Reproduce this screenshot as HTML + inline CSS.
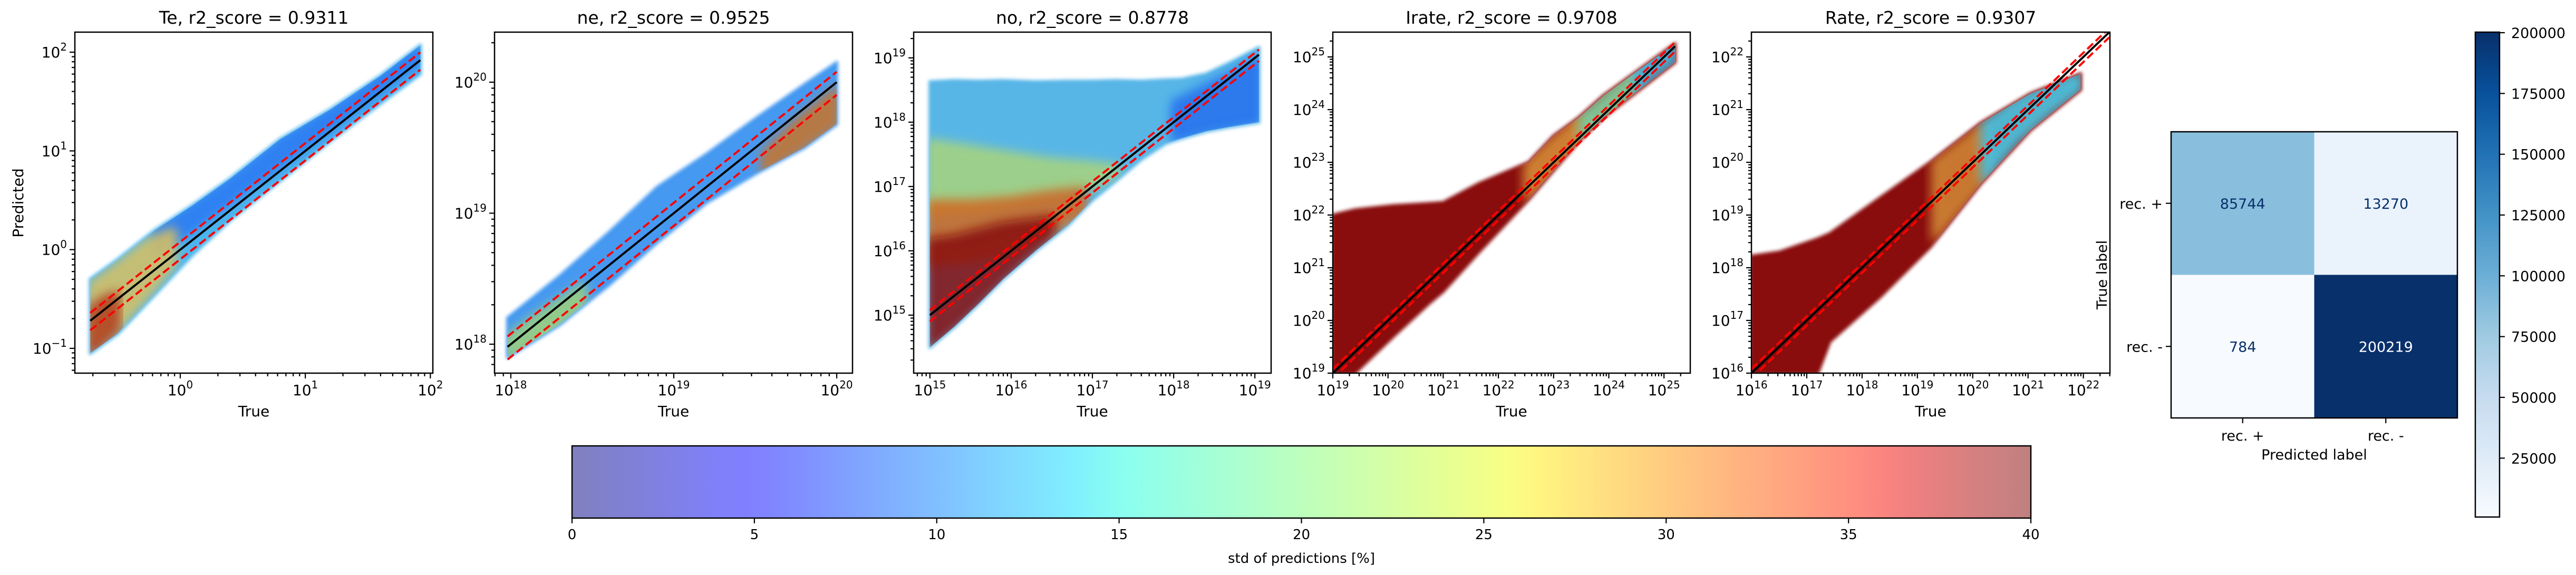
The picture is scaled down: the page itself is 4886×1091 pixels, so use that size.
<!DOCTYPE html>
<html><head><meta charset="utf-8"><title>Prediction scatter panels</title>
<style>
html,body{margin:0;padding:0;background:#fff;}
svg{display:block;font-family:"DejaVu Sans","Liberation Sans",sans-serif;}
</style></head>
<body>
<svg id="fig" width="4886" height="1091" viewBox="0 0 4886 1091" xmlns="http://www.w3.org/2000/svg">
<defs>
<linearGradient id="jetGrad" x1="0" y1="0" x2="1" y2="0"></linearGradient>
<linearGradient id="bluesGrad" x1="0" y1="1" x2="0" y2="0"></linearGradient>
<filter id="soft" x="-20%" y="-20%" width="140%" height="140%"><feGaussianBlur stdDeviation="10"/></filter>
<filter id="softEdge" x="-10%" y="-10%" width="120%" height="120%"><feGaussianBlur stdDeviation="3"/></filter>
</defs>
</svg>
<script>
// ---------- data (log10 values) ----------
const panelTitles = ["Te, r2_score = 0.9311","ne, r2_score = 0.9525","no, r2_score = 0.8778","Irate, r2_score = 0.9708","Rate, r2_score = 0.9307"];
// Te cloud envelope
const teEnvX  = [-0.72,-0.5,-0.2,0.1,0.4,0.8,1.2,1.6,1.92];
const teEnvLo = [-1.05,-0.85,-0.45,-0.05,0.3,0.7,1.1,1.48,1.78];
const teEnvHi = [-0.3,-0.1,0.2,0.45,0.72,1.12,1.42,1.76,2.07];
const teBlueX = [-0.2,0.1,0.4,0.8,1.2,1.6,1.92];
const teBlueLo = [-0.05,0.2,0.48,0.85,1.22,1.6,1.9];
const teBlueHi = [0.2,0.45,0.72,1.12,1.42,1.76,2.07];
const teWarmX = [-0.72,-0.5,-0.25,-0.05];
const teWarmLo = [-1.0,-0.8,-0.45,-0.15];
const teWarmHi = [-0.35,-0.15,0.1,0.2];
const teRedX = [-0.72,-0.62,-0.5];
const teRedLo = [-1.05,-0.95,-0.8];
const teRedHi = [-0.6,-0.5,-0.45];
// ne
const neEnvX  = [17.98,18.3,18.6,18.9,19.2,19.5,19.8,20.0];
const neEnvLo = [17.9,18.15,18.45,18.78,19.08,19.3,19.5,19.68];
const neEnvHi = [18.2,18.52,18.85,19.2,19.45,19.72,19.98,20.15];
const neWarmX = [19.55,19.75,20.0];
const neWarmLo = [19.32,19.47,19.68];
const neWarmHi = [19.45,19.7,19.95];
const neGreenX = [17.98,18.2,18.45];
const neGreenLo = [17.9,18.05,18.3];
const neGreenHi = [18.05,18.25,18.45];
// no
const noEnvX  = [15.0,15.3,15.6,15.9,16.3,16.7,17.0,17.3,17.6,17.9,18.1,18.4,18.7,19.05];
const noEnvLo = [14.5,14.82,15.18,15.56,16.0,16.4,16.79,17.1,17.42,17.67,17.75,17.86,17.93,18.0];
const noEnvHi = [18.63,18.65,18.64,18.65,18.63,18.64,18.64,18.65,18.64,18.66,18.67,18.75,18.93,19.16];
const noMixX  = [15.0,15.5,16.0,16.5,17.0,17.3];
const noMixLo = [16.6,16.65,16.75,16.85,17.0,17.2];
const noMixHi = [17.7,17.6,17.5,17.4,17.35,17.3];
const noOrangeX = [15.0,15.5,16.0,16.5,16.9];
const noOrangeLo = [15.8,15.85,16.0,16.3,16.6];
const noOrangeHi = [16.75,16.75,16.8,16.9,16.95];
const noRedX = [15.0,15.3,15.6,15.9,16.2,16.5];
const noRedLo = [14.5,14.82,15.18,15.56,15.9,16.25];
const noRedHi = [16.15,16.2,16.3,16.4,16.45,16.5];
const noBlueX = [18.0,18.4,18.8,19.05];
const noBlueLo = [17.72,17.86,17.95,18.0];
const noBlueHi = [18.3,18.55,18.8,19.0];
// Irate
const irEnvX  = [19.0,19.4,19.83,20.1,20.74,21.0,21.65,22.55,23.0,23.46,23.9,25.2];
const irEnvLo = [19.0,19.0,19.43,19.7,20.32,20.55,21.3,22.3,22.85,23.4,23.85,24.9];
const irEnvHi = [22.0,22.1,22.15,22.18,22.22,22.24,22.6,23.0,23.5,23.85,24.26,25.25];
const irOrangeX = [22.5,23.0,23.5];
const irOrangeLo = [22.3,22.85,23.4];
const irOrangeHi = [22.95,23.45,23.9];
const irGreenX = [23.5,24.0,24.5];
const irGreenLo = [23.4,23.88,24.35];
const irGreenHi = [23.9,24.35,24.8];
const irCyanX = [24.5,24.9,25.2];
const irCyanLo = [24.35,24.7,24.92];
const irCyanHi = [24.8,25.1,25.25];
// Rate
const rtEnvX  = [16.0,16.51,17.2,17.42,18.33,19.23,20.14,21.04,21.95];
const rtEnvLo = [16.0,16.0,16.0,16.6,17.45,18.39,19.59,20.61,21.38];
const rtEnvHi = [18.22,18.3,18.55,18.65,19.33,20.0,20.74,21.3,21.68];
const rtOrangeX = [19.3,19.8,20.2];
const rtOrangeLo = [18.55,19.15,19.65];
const rtOrangeHi = [20.0,20.4,20.75];
const rtCyanX = [20.2,20.8,21.4,21.95];
const rtCyanLo = [19.65,20.4,20.95,21.38];
const rtCyanHi = [20.75,21.2,21.5,21.68];
// identity line ranges (log10 True)
const lineStart = [-0.72,17.98,15.0,19.0,16.0];
const lineEnd = [1.92,20.0,19.05,25.2,22.47];
const bandFactorHi = 1.2, bandFactorLo = 0.8;
// confusion matrix
const cmLabels = ["rec. +","rec. -"];
const cmValues = [[85744,13270],[784,200219]];
const cmTicks = [25000,50000,75000,100000,125000,150000,175000,200000];
// std colorbar
const stdTicks = [0,5,10,15,20,25,30,35,40];

// ---------- layout (pixel geometry, not data) ----------
const panels = [
 {id:'te',L:142,R:821,T:61,B:708,x0:-0.843,x1:2.02,y0:-1.251,y1:2.203},
 {id:'ne',L:938,R:1617,T:61,B:708,x0:17.9,x1:20.097,y0:17.779,y1:20.382},
 {id:'no',L:1733,R:2411,T:61,B:708,x0:14.8,x1:19.2,y0:14.098,y1:19.40},
 {id:'irate',L:2528,R:3206,T:61,B:708,x0:19.0,x1:25.476,y0:19.0,y1:25.47},
 {id:'rate',L:3322,R:4002,T:61,B:708,x0:16.0,x1:22.48,y0:16.0,y1:22.47}
];
const panelBands = [
 [[teEnvX,teEnvLo,teEnvHi,'#45b3ee'],[teBlueX,teBlueLo,teBlueHi,'#2a78f2'],[teWarmX,teWarmLo,teWarmHi,'#d8c060'],[teRedX,teRedLo,teRedHi,'#b04020']],
 [[neEnvX,neEnvLo,neEnvHi,'#3b94f0'],[neWarmX,neWarmLo,neWarmHi,'#c8742a'],[neGreenX,neGreenLo,neGreenHi,'#9ed27a']],
 [[noEnvX,noEnvLo,noEnvHi,'#4fb2e6'],[noMixX,noMixLo,noMixHi,'#a8d47c'],[noOrangeX,noOrangeLo,noOrangeHi,'#d06a22'],[noRedX,noRedLo,noRedHi,'#880808'],[noBlueX,noBlueLo,noBlueHi,'#2470ef']],
 [[irEnvX,irEnvLo,irEnvHi,'#840404'],[irOrangeX,irOrangeLo,irOrangeHi,'#d89038'],[irGreenX,irGreenLo,irGreenHi,'#7fdca8'],[irCyanX,irCyanLo,irCyanHi,'#40c4f0']],
 [[rtEnvX,rtEnvLo,rtEnvHi,'#840404'],[rtOrangeX,rtOrangeLo,rtOrangeHi,'#d28a36'],[rtCyanX,rtCyanLo,rtCyanHi,'#46d0ee']]
];
const bandNames = [['te-cloud','te-blue-points','te-warm-points','te-red-points'],['ne-cloud','ne-warm-points','ne-green-points'],['no-cloud','no-mixed-points','no-orange-points','no-red-points','no-blue-points'],['irate-cloud','irate-orange-points','irate-green-points','irate-cyan-points'],['rate-cloud','rate-orange-points','rate-cyan-points']];

const NS='http://www.w3.org/2000/svg';
const svg=document.getElementById('fig');
function mk(tag,attrs,parent){const e=document.createElementNS(NS,tag);for(const k in attrs)e.setAttribute(k,attrs[k]);(parent||svg).appendChild(e);return e;}
function supText(parent,x,y,anchor,base,exp,size){
  const t=mk('text',{x:x,y:y,'text-anchor':anchor,'font-size':size,fill:'#000'},parent);
  t.appendChild(document.createTextNode(base));
  const s=mk('tspan',{dy:-13,'font-size':Math.round(size*0.7)},t);
  s.textContent=exp;
  return t;
}

function jet(t){
  let r,g,b;
  r=t<0.35?0:t<0.66?(t-0.35)/0.31:t<0.89?1:1-0.5*(t-0.89)/0.11;
  g=t<0.125?0:t<0.375?(t-0.125)/0.25:t<0.64?1:t<0.91?1-(t-0.64)/0.27:0;
  b=t<0.11?0.5+0.5*t/0.11:t<0.34?1:t<0.65?1-(t-0.34)/0.31:0;
  const f=c=>Math.round((c*0.5+0.5)*255);
  return 'rgb('+f(r)+','+f(g)+','+f(b)+')';
}
const jg=document.getElementById('jetGrad');
for(let i=0;i<=50;i++){const t=i/50;mk('stop',{offset:t,'stop-color':jet(t)},jg);}
const bluesStops=['#f7fbff','#deebf7','#c6dbef','#9ecae1','#6baed6','#4292c6','#2171b5','#08519c','#08306b'];
function hex(h){return [parseInt(h.substr(1,2),16),parseInt(h.substr(3,2),16),parseInt(h.substr(5,2),16)];}
function blues(t){t=Math.max(0,Math.min(1,t));const p=t*8,i=Math.min(7,Math.floor(p)),f=p-i;const a=hex(bluesStops[i]),b=hex(bluesStops[i+1]);return 'rgb('+a.map((v,k)=>Math.round(v+(b[k]-v)*f)).join(',')+')';}
const bg=document.getElementById('bluesGrad');
bluesStops.forEach((c,i)=>{mk('stop',{offset:i/8,'stop-color':c},bg);});

// ---------- scatter panels ----------
panels.forEach((P,pi)=>{
  const g=mk('g',{});
  
  
  const sx=v=>P.L+(v-P.x0)/(P.x1-P.x0)*(P.R-P.L);
  const sy=v=>P.B-(v-P.y0)/(P.y1-P.y0)*(P.B-P.T);
  const clip=mk('clipPath',{id:'clip'+pi},svg.querySelector('defs'));
  mk('rect',{x:P.L,y:P.T,width:P.R-P.L,height:P.B-P.T},clip);
  const cg=mk('g',{'clip-path':'url(#clip'+pi+')'},g);
  const dg=mk('g',{},cg);
  // sub-bands clipped to the base envelope
  const envClip=mk('clipPath',{id:'env'+pi},svg.querySelector('defs'));
  panelBands[pi].forEach((bd,bi)=>{
    const [xs,lo,hi,col]=bd;
    let pts=[];
    for(let i=0;i<xs.length;i++)pts.push(sx(xs[i]).toFixed(1)+','+sy(hi[i]).toFixed(1));
    for(let i=xs.length-1;i>=0;i--)pts.push(sx(xs[i]).toFixed(1)+','+sy(lo[i]).toFixed(1));
    if(bi===0){
      mk('polygon',{points:pts.join(' '),stroke:'#000','stroke-width':10,'stroke-linejoin':'round'},envClip);
      const poly=mk('polygon',{points:pts.join(' '),fill:col,stroke:col,'stroke-width':8,'stroke-linejoin':'round','fill-opacity':0.95,'stroke-opacity':0.6,filter:'url(#softEdge)'},dg);
      
      
    } else {
      const wrap=mk('g',{'clip-path':'url(#env'+pi+')'},dg);
      const poly=mk('polygon',{points:pts.join(' '),fill:col,stroke:col,'stroke-width':10,'stroke-linejoin':'round','fill-opacity':0.85,filter:'url(#soft)'},wrap);
      
      
    }
  });
  const a=lineStart[pi],b=lineEnd[pi];
  const dh=Math.log10(bandFactorHi),dl=Math.log10(bandFactorLo);
  const up=mk('line',{x1:sx(a),y1:sy(a+dh),x2:sx(b),y2:sy(b+dh),stroke:'#ff0000','stroke-width':4,'stroke-dasharray':'15,7'},cg);
  
  
  const dn=mk('line',{x1:sx(a),y1:sy(a+dl),x2:sx(b),y2:sy(b+dl),stroke:'#ff0000','stroke-width':4,'stroke-dasharray':'15,7'},cg);
  
  
  const id=mk('line',{x1:sx(a),y1:sy(a),x2:sx(b),y2:sy(b),stroke:'#000','stroke-width':4},cg);
  
  
  const fr=mk('rect',{x:P.L,y:P.T,width:P.R-P.L,height:P.B-P.T,fill:'none',stroke:'#000','stroke-width':2.5},g);
  
  
  const tg=mk('g',{stroke:'#000','stroke-width':2.2},g);
  const lg=mk('g',{},g);
  
  
  for(let d=Math.floor(P.x0);d<=Math.ceil(P.x1);d++){
    for(let k=1;k<=9;k++){const v=d+Math.log10(k);if(v<P.x0-1e-6||v>P.x1+1e-6)continue;const X=sx(v);
      mk('line',{x1:X,y1:P.B,x2:X,y2:P.B+(k===1?10:6)},tg);
      if(k===1)supText(lg,X,750,'middle','10',d<0?'\u2212'+(-d):String(d),28);}
  }
  for(let d=Math.floor(P.y0);d<=Math.ceil(P.y1);d++){
    for(let k=1;k<=9;k++){const v=d+Math.log10(k);if(v<P.y0-1e-6||v>P.y1+1e-6)continue;const Y=sy(v);
      mk('line',{x1:P.L,y1:Y,x2:P.L-(k===1?10:6),y2:Y},tg);
      if(k===1)supText(lg,P.L-15,Y+10,'end','10',d<0?'\u2212'+(-d):String(d),28);}
  }
  const t=mk('text',{x:(P.L+P.R)/2,y:45,'text-anchor':'middle','font-size':33},g);
  t.textContent=panelTitles[pi];
  
  
  const xl=mk('text',{x:(P.L+P.R)/2,y:790,'text-anchor':'middle','font-size':28},g);
  xl.textContent='True';
  
  
});
const yl=mk('text',{x:0,y:0,'text-anchor':'middle','font-size':28,transform:'translate(44,385) rotate(-90)'});
yl.textContent='Predicted';



// ---------- std colorbar ----------
const cbL=1085,cbR=3852,cbT=846,cbB=983,cbMin=0,cbMax=40;
const cbx=v=>cbL+(v-cbMin)/(cbMax-cbMin)*(cbR-cbL);
const cbr=mk('rect',{x:cbL,y:cbT,width:cbR-cbL,height:cbB-cbT,fill:'url(#jetGrad)',stroke:'#000','stroke-width':2.5});


stdTicks.forEach(v=>{
  mk('line',{x1:cbx(v),y1:cbB,x2:cbx(v),y2:cbB+10,stroke:'#000','stroke-width':2.2});
  const t=mk('text',{x:cbx(v),y:1023,'text-anchor':'middle','font-size':26});
  t.textContent=String(v);
  
  
});
const cbl=mk('text',{x:(cbL+cbR)/2,y:1068,'text-anchor':'middle','font-size':26});
cbl.textContent='std of predictions [%]';



// ---------- confusion matrix ----------
const cmL=4118,cmR=4661,cmT=250,cmB=793;
const cmMin=784,cmMax=200219;
const cw=(cmR-cmL)/2,ch=(cmB-cmT)/2;
const cmg=mk('g',{});


cmValues.forEach((row,i)=>row.forEach((v,j)=>{
  const t=(v-cmMin)/(cmMax-cmMin);
  const r=mk('rect',{x:cmL+j*cw,y:cmT+i*ch,width:cw+0.5,height:ch+0.5,fill:blues(t)},cmg);
  
  
  const tx=mk('text',{x:cmL+(j+0.5)*cw,y:cmT+(i+0.5)*ch+10,'text-anchor':'middle','font-size':27,fill:t>0.5?'#ffffff':'#08306b'},cmg);
  tx.textContent=String(v);
  
  
}));
mk('rect',{x:cmL,y:cmT,width:cmR-cmL,height:cmB-cmT,fill:'none',stroke:'#000','stroke-width':2.5},cmg);
cmLabels.forEach((lab,i)=>{
  const yc=cmT+(i+0.5)*ch, xc=cmL+(i+0.5)*cw;
  mk('line',{x1:cmL,y1:yc,x2:cmL-10,y2:yc,stroke:'#000','stroke-width':2.2},cmg);
  const a=mk('text',{x:cmL-16,y:yc+10,'text-anchor':'end','font-size':27},cmg);
  a.textContent=lab;
  
  
  mk('line',{x1:xc,y1:cmB,x2:xc,y2:cmB+10,stroke:'#000','stroke-width':2.2},cmg);
  const b=mk('text',{x:xc,y:836,'text-anchor':'middle','font-size':27},cmg);
  b.textContent=lab;
  
  
});
const pl=mk('text',{x:(cmL+cmR)/2,y:872,'text-anchor':'middle','font-size':27},cmg);
pl.textContent='Predicted label';


const tl=mk('text',{x:0,y:0,'text-anchor':'middle','font-size':27,transform:'translate(3996,'+((cmT+cmB)/2)+') rotate(-90)'},cmg);
tl.textContent='True label';



const ccL=4695,ccR=4741,ccT=61,ccB=981;
const ccy=v=>ccB-(v-cmMin)/(cmMax-cmMin)*(ccB-ccT);
const ccr=mk('rect',{x:ccL,y:ccT,width:ccR-ccL,height:ccB-ccT,fill:'url(#bluesGrad)',stroke:'#000','stroke-width':2.5});


cmTicks.forEach(v=>{
  mk('line',{x1:ccR,y1:ccy(v),x2:ccR+10,y2:ccy(v),stroke:'#000','stroke-width':2.2});
  const t=mk('text',{x:ccR+22,y:ccy(v)+10,'text-anchor':'start','font-size':27});
  t.textContent=String(v);
  
  
});
</script>
</body></html>
